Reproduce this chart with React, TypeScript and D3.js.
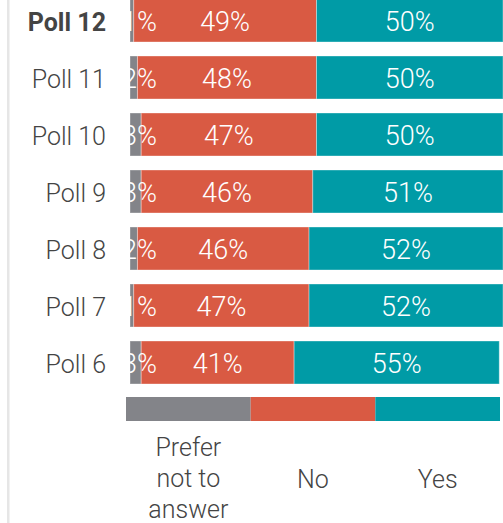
import React from "react";
import * as d3 from "d3";

const polls = ["Poll 12", "Poll 11", "Poll 10", "Poll 9", "Poll 8", "Poll 7", "Poll 6"];
const preferValues = [1, 2, 3, 3, 2, 1, 3];
const noValues = [49, 48, 47, 46, 46, 47, 41];
const yesValues = [50, 50, 50, 51, 52, 52, 55];
const seriesNames = ["Prefer not to answer", "No", "Yes"];
const legendLines = [["Prefer", "not to", "answer"], ["No"], ["Yes"]];
const colors = ["#838489", "#d95a43", "#009ba6"];

const W = 503;
const H = 523;
const FONT = "'Source Sans Pro', Roboto, sans-serif";

export default function App() {
  const x = d3.scaleLinear().domain([0, 100]).range([130, 503]);
  const y = d3.scaleBand<string>().domain(polls).range([-1, 384]).paddingInner(14 / 57).paddingOuter(0);
  const legendX = d3.scaleBand<string>().domain(seriesNames).range([126, 500]).padding(0);

  const rows = polls.map((p, i) => ({ poll: p, vals: [preferValues[i], noValues[i], yesValues[i]] }));
  const stacked = rows.map((r) => {
    let acc = 0;
    return r.vals.map((v, k) => {
      const s = { x0: acc, x1: acc + v, v, k };
      acc += v;
      return s;
    });
  });

  return (
    <svg width={W} height={H} style={{ position: "absolute", left: 0, top: 0, background: "#fff" }} fontFamily={FONT}>
      <defs>
        <clipPath id="plotClip">
          <rect x={130} y={-10} width={380} height={410} />
        </clipPath>
      </defs>
      <rect x={7} y={0} width={2.5} height={H} fill="#e6e6e6" />
      {rows.map((r, i) => {
        const by = y(r.poll)!;
        const bh = y.bandwidth();
        const cy = by + bh / 2;
        return (
          <g key={r.poll}>
            <text
              x={106}
              y={cy + 10}
              textAnchor="end"
              fontSize={25}
              fill="#444"
              fontWeight={i === 0 ? 700 : 300}
            >
              {r.poll}
            </text>
            <g clipPath="url(#plotClip)">
              {stacked[i].map((s) => (
                <rect
                  key={s.k}
                  x={x(s.x0)}
                  y={by}
                  width={x(s.x1) - x(s.x0)}
                  height={bh}
                  fill={colors[s.k]}
                  stroke="rgba(255,255,255,0.35)"
                  strokeWidth={1}
                />
              ))}
              {stacked[i].map((s) => {
                const isSmall = s.k === 0;
                const tx = isSmall ? 157 : (x(s.x0) + x(s.x1)) / 2;
                return (
                  <text
                    key={"t" + s.k}
                    x={tx}
                    y={cy + 10}
                    textAnchor={isSmall ? "end" : "middle"}
                    fontSize={27}
                    fontWeight={300}
                    fill="#fff"
                  >
                    {s.v + "%"}
                  </text>
                );
              })}
            </g>
          </g>
        );
      })}
      {seriesNames.map((n, k) => {
        const lx = legendX(n)!;
        const lw = legendX.bandwidth();
        const lines = legendLines[k];
        const startBaseline = lines.length === 1 ? 488 : 456;
        return (
          <g key={n}>
            <rect x={lx} y={397} width={lw} height={24} fill={colors[k]} />
            <text x={lx + lw / 2} textAnchor="middle" fontSize={25} fontWeight={300} fill="#444">
              {lines.map((ln, j) => (
                <tspan key={j} x={lx + lw / 2} y={startBaseline + j * 31}>
                  {ln}
                </tspan>
              ))}
            </text>
          </g>
        );
      })}
    </svg>
  );
}
